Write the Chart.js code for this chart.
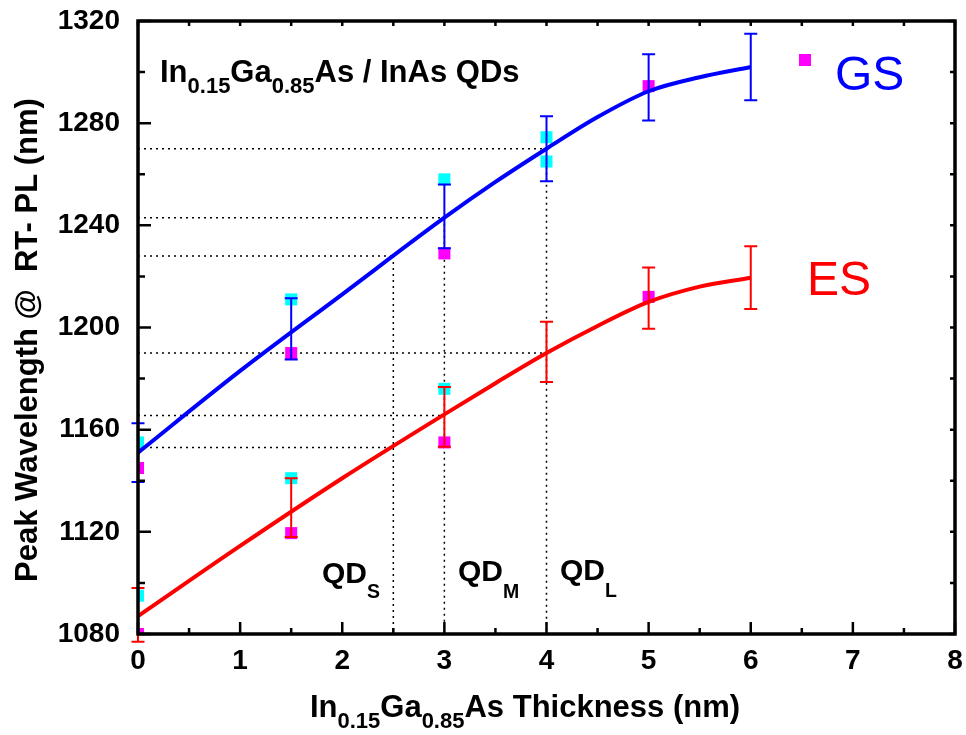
<!DOCTYPE html>
<html>
<head>
<meta charset="utf-8">
<script src="https://cdn.jsdelivr.net/npm/chart.js@4"></script>
<style>
  html, body { margin: 0; padding: 0; background: #fff; }
  #wrap { width: 966px; height: 735px; }
</style>
</head>
<body>
<div id="wrap"><canvas id="grafico" width="966" height="735"></canvas></div>
<script>
// espessuras (nm) com barras de erro
const espessuras = [0, 1.5, 3, 4, 5, 6];

// centro e meia-altura das barras de erro - estado fundamental (GS)
const gsCentro = [1151, 1199.5, 1243.5, 1270, 1294, 1302];
const gsErro = [11.5, 12, 12.5, 12.7, 13, 13];

// centro e meia-altura das barras de erro - estado excitado (ES)
const esCentro = [1087.5, 1129.5, 1165, 1190.5, 1211.5, 1219.5];
const esErro = [10.5, 11.5, 11.7, 11.8, 12, 12.3];

// curvas ajustadas
const curvaX = [0, 1, 2, 3, 3.5, 4, 4.5, 5, 5.5, 6];
const gsCurva = [1151, 1183, 1213, 1243, 1257, 1270, 1282.4, 1292.5, 1298, 1302];
const esCurva = [1087, 1114.5, 1141, 1166, 1178.2, 1190, 1200.6, 1210, 1216, 1219.5];

// pontos medidos (quadrados ciano e magenta)
const gsCianoX = [0, 1.5, 3, 4, 4];
const gsCianoY = [1155, 1211, 1258, 1274.5, 1265];
const gsMagentaX = [0, 1.5, 3, 5];
const gsMagentaY = [1145, 1190, 1229, 1294.5];
const esCianoX = [0, 1.5, 3];
const esCianoY = [1095, 1141, 1176];
const esMagentaX = [0, 1.5, 3, 5];
const esMagentaY = [1080, 1119.5, 1155, 1212];

// linhas pontilhadas de referência
const guiaNiveis = [1270, 1243, 1228, 1190, 1165.5, 1153];
const guiaFim = [4, 3, 2.5, 4, 3, 2.5];
const guiaVertX = [2.5, 3, 4];
const guiaVertTopo = [1228, 1243, 1270];

// eixos
const eixoX = { min: 0, max: 8, passo: 1 };
const eixoY = { min: 1080, max: 1320, passo: 40 };

const FONTE = '"Liberation Sans", Arial, sans-serif';

const pares = (xs, ys) => xs.map((x, i) => ({ x: x, y: ys[i] }));

// monta os datasets
const datasets = [];

guiaNiveis.forEach((nivel, i) => {
  datasets.push({
    data: [{ x: 0, y: nivel }, { x: guiaFim[i], y: nivel }],
    showLine: true, borderColor: '#000', borderWidth: 1.5, borderDash: [2, 4],
    pointRadius: 0, order: 10
  });
});
guiaVertX.forEach((x, i) => {
  datasets.push({
    data: [{ x: x, y: guiaVertTopo[i] }, { x: x, y: eixoY.min }],
    showLine: true, borderColor: '#000', borderWidth: 1.5, borderDash: [2, 4],
    pointRadius: 0, order: 10
  });
});

const quadrado = (xs, ys, cor) => ({
  data: pares(xs, ys), pointStyle: 'rect', pointRadius: 8.5,
  backgroundColor: cor, borderWidth: 0, order: 5
});
datasets.push(quadrado(gsCianoX, gsCianoY, '#00ffff'));
datasets.push(quadrado(gsMagentaX, gsMagentaY, '#ff00ff'));
datasets.push(quadrado(esCianoX, esCianoY, '#00ffff'));
datasets.push(quadrado(esMagentaX, esMagentaY, '#ff00ff'));

// curvas ajustadas
datasets.push({
  data: pares(curvaX, gsCurva), showLine: true, borderColor: '#0000ff',
  borderWidth: 4, cubicInterpolationMode: 'monotone', pointRadius: 0, order: 1
});
datasets.push({
  data: pares(curvaX, esCurva), showLine: true, borderColor: '#ff0000',
  borderWidth: 4, cubicInterpolationMode: 'monotone', pointRadius: 0, order: 1
});

// barras de erro (desenhadas pelo plugin)
const barras = [
  { centro: gsCentro, erro: gsErro, cor: '#0000ff' },
  { centro: esCentro, erro: esErro, cor: '#ff0000' }
];

// escreve texto com subíndices: partes = [[texto, sub?], ...]
function textoSub(ctx, partes, x, y, tam, alinhar, escala = 0.71, desce = 0.35) {
  const larg = partes.reduce((s, p) => {
    ctx.font = 'bold ' + (p[1] ? tam * escala : tam) + 'px ' + FONTE;
    return s + ctx.measureText(p[0]).width;
  }, 0);
  let cx = alinhar === 'center' ? x - larg / 2 : x;
  ctx.textAlign = 'left';
  ctx.textBaseline = 'alphabetic';
  partes.forEach(p => {
    ctx.font = 'bold ' + (p[1] ? tam * escala : tam) + 'px ' + FONTE;
    ctx.fillText(p[0], cx, p[1] ? y + tam * desce : y);
    cx += ctx.measureText(p[0]).width;
  });
}

const extras = {
  id: 'extras',
  afterDatasetsDraw(chart) {
    const ctx = chart.ctx;
    const xs = chart.scales.x, ys = chart.scales.y;
    const a = chart.chartArea;
    ctx.save();

    // barras de erro
    barras.forEach(b => {
      ctx.strokeStyle = b.cor;
      ctx.lineWidth = 2;
      espessuras.forEach((x, i) => {
        const px = xs.getPixelForValue(x);
        const y1 = ys.getPixelForValue(b.centro[i] + b.erro[i]);
        const y2 = ys.getPixelForValue(b.centro[i] - b.erro[i]);
        ctx.beginPath();
        ctx.moveTo(px, y1); ctx.lineTo(px, y2);
        ctx.moveTo(px - 6.5, y1); ctx.lineTo(px + 6.5, y1);
        ctx.moveTo(px - 6.5, y2); ctx.lineTo(px + 6.5, y2);
        ctx.stroke();
      });
    });

    // moldura
    ctx.strokeStyle = '#000';
    ctx.lineWidth = 3.5;
    ctx.strokeRect(a.left, a.top, a.right - a.left, a.bottom - a.top);

    // marcas de escala (para dentro)
    ctx.lineWidth = 2.5;
    ctx.beginPath();
    for (let v = eixoX.min; v <= eixoX.max; v += eixoX.passo / 2) {
      const px = xs.getPixelForValue(v);
      const maior = Math.abs(v - Math.round(v)) < 1e-6;
      ctx.moveTo(px, a.bottom); ctx.lineTo(px, a.bottom - (maior ? 12 : 6));
      ctx.moveTo(px, a.top); ctx.lineTo(px, a.top + 5);
    }
    for (let v = eixoY.min; v <= eixoY.max; v += eixoY.passo / 2) {
      const py = ys.getPixelForValue(v);
      const maior = (v - eixoY.min) % eixoY.passo === 0;
      ctx.moveTo(a.left, py); ctx.lineTo(a.left + (maior ? 13 : 7), py);
      ctx.moveTo(a.right, py); ctx.lineTo(a.right - 5, py);
    }
    ctx.stroke();

    // textos
    ctx.fillStyle = '#000';
    textoSub(ctx, [['In'], ['0.15', 1], ['Ga'], ['0.85', 1], ['As / InAs QDs']], 160, 82, 31);
    textoSub(ctx, [['QD'], ['S', 1]], 322, 583, 30, 'left', 0.65, 0.5);
    textoSub(ctx, [['QD'], ['M', 1]], 458, 581, 30, 'left', 0.65, 0.55);
    textoSub(ctx, [['QD'], ['L', 1]], 560, 580, 30, 'left', 0.65, 0.55);
    textoSub(ctx, [['In'], ['0.15', 1], ['Ga'], ['0.85', 1], ['As Thickness (nm)']], 525, 717, 31, 'center');

    ctx.save();
    ctx.translate(37, 340);
    ctx.rotate(-Math.PI / 2);
    ctx.font = 'bold 31px ' + FONTE;
    ctx.textAlign = 'center';
    ctx.fillText('Peak Wavelength @  RT- PL (nm)', 0, 0);
    ctx.restore();

    // legenda
    ctx.fillStyle = '#ff00ff';
    ctx.fillRect(799, 54, 12, 12);
    ctx.font = '48px ' + FONTE;
    ctx.textAlign = 'left';
    ctx.fillStyle = '#0000ff';
    ctx.fillText('GS', 835, 90);
    ctx.fillStyle = '#ff0000';
    ctx.fillText('ES', 807, 295);

    ctx.restore();
  }
};

new Chart(document.getElementById('grafico').getContext('2d'), {
  type: 'scatter',
  data: { datasets: datasets },
  plugins: [extras],
  options: {
    responsive: false,
    animation: false,
    layout: { padding: { top: 21, right: 11, left: 0, bottom: 0 } },
    plugins: { legend: { display: false }, tooltip: { enabled: false } },
    scales: {
      x: {
        type: 'linear', min: eixoX.min, max: eixoX.max,
        grid: { display: false, drawTicks: false },
        border: { display: false },
        ticks: { stepSize: eixoX.passo, color: '#000', padding: 10,
                 callback: v => String(v),
                 font: { family: FONTE, size: 28, weight: 'bold' } },
        afterFit: s => { s.height = 101; s.paddingLeft = 0; s.paddingRight = 0; }
      },
      y: {
        type: 'linear', min: eixoY.min, max: eixoY.max,
        grid: { display: false, drawTicks: false },
        border: { display: false },
        ticks: { stepSize: eixoY.passo, color: '#000', padding: 18,
                 callback: v => String(v),
                 font: { family: FONTE, size: 28, weight: 'bold' } },
        afterFit: s => { s.width = 138; s.paddingTop = 0; s.paddingBottom = 0; }
      }
    }
  }
});
</script>
</body>
</html>
